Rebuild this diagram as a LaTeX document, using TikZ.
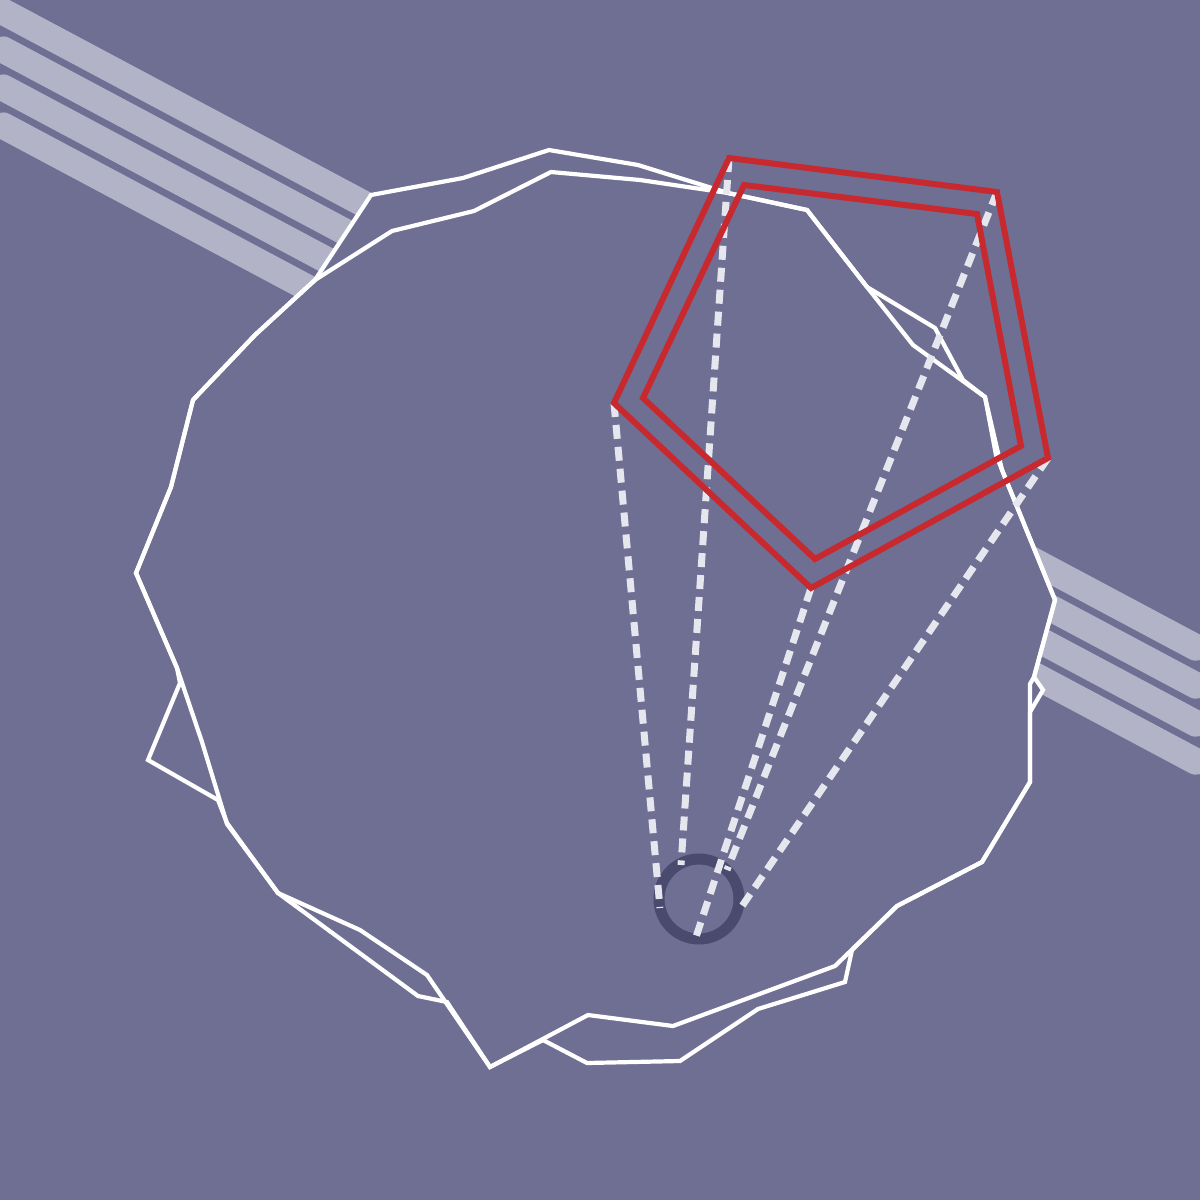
\documentclass[tikz,border=0pt]{standalone}
\begin{document}
\begin{tikzpicture}[x=1pt,y=-1pt]
\definecolor{bg}{HTML}{6F6F94}
\definecolor{band}{HTML}{B3B3C8}
\definecolor{ringc}{HTML}{4A4A6E}
\definecolor{dashc}{HTML}{E6E6EE}
\definecolor{redc}{HTML}{C8292E}
\tikzset{
  bandline/.style={band,line width=26.5pt,line cap=round},
  polyfill/.style={fill=bg},
  polyline/.style={draw=white,line width=4.2pt,line join=miter},
  rayline/.style={dashc,line width=7pt,line cap=butt,dash pattern=on 14pt off 8pt},
  pentline/.style={draw=redc,line width=6pt,line join=miter},
}
\useasboundingbox (0,0) rectangle (1200,1200);
\fill[bg] (0,0) rectangle (1200,1200);
% bands
\foreach \c in {10,48,86,124}{
  \draw[bandline] (3,{\c+0.533*3}) -- (1196,{\c+0.533*1196});
}
% polygons
\def\polyA{(136,573) -- (177,668) -- (202,742) -- (227,824) -- (278,893) -- (360,930) -- (427,975) -- (490,1067) -- (588,1015) -- (673,1026) -- (835,966) -- (897,906) -- (982,862) -- (1030,782) -- (1030,684) -- (1034,677) -- (1055,600) -- (1002,470) -- (985,397) -- (913,345) -- (867,287) -- (807,210) -- (728,193) -- (638,165) -- (549,150) -- (463,178) -- (371,195) -- (315,280) -- (255,335) -- (193,400) -- (171,487) -- cycle}
\def\polyB{(136,573) -- (177,668) -- (180,683) -- (148,760) -- (218,800) -- (227,823) -- (278,893) -- (418,996) -- (447,1002) -- (490,1067) -- (543,1040) -- (587,1063) -- (680,1061) -- (758,1009) -- (845,982) -- (852,950) -- (897,906) -- (982,862) -- (1030,782) -- (1030,712) -- (1043,690) -- (1034,677) -- (1055,600) -- (996,455) -- (985,397) -- (963,380) -- (935,328) -- (867,287) -- (807,210) -- (728,193) -- (640,180) -- (551,172) -- (474,211) -- (392,231) -- (315,280) -- (255,335) -- (193,400) -- (171,487) -- cycle}
\path[polyfill] \polyA;
\path[polyfill] \polyB;
\path[polyline] \polyA;
\path[polyline] \polyB;
% ring
\node[circle,draw=ringc,line width=11pt,minimum size=80pt,inner sep=0pt] (ring) at (699,899) {};
% pentagon vertices
\coordinate (p1) at (729,158);
\coordinate (p2) at (997,192);
\coordinate (p3) at (1048,458);
\coordinate (p4) at (811,588);
\coordinate (p5) at (614,403);
\coordinate (e1) at (681,865);
\coordinate (e2) at (727,870);
\coordinate (e3) at (738,912);
\coordinate (e4) at (695,940);
\coordinate (e5) at (660,908);
% rays
\draw[rayline] (p1) -- (e1);
\draw[rayline] (p2) -- (e2);
\draw[rayline] (p3) -- (e3);
\draw[rayline] (p4) -- (e4);
\draw[rayline] (p5) -- (e5);
% pentagons
\draw[pentline] (p1) -- (p2) -- (p3) -- (p4) -- (p5) -- cycle;
\draw[pentline] (744,185) -- (977,214) -- (1021,446) -- (815,559) -- (643,398) -- cycle;
\end{tikzpicture}
\end{document}
